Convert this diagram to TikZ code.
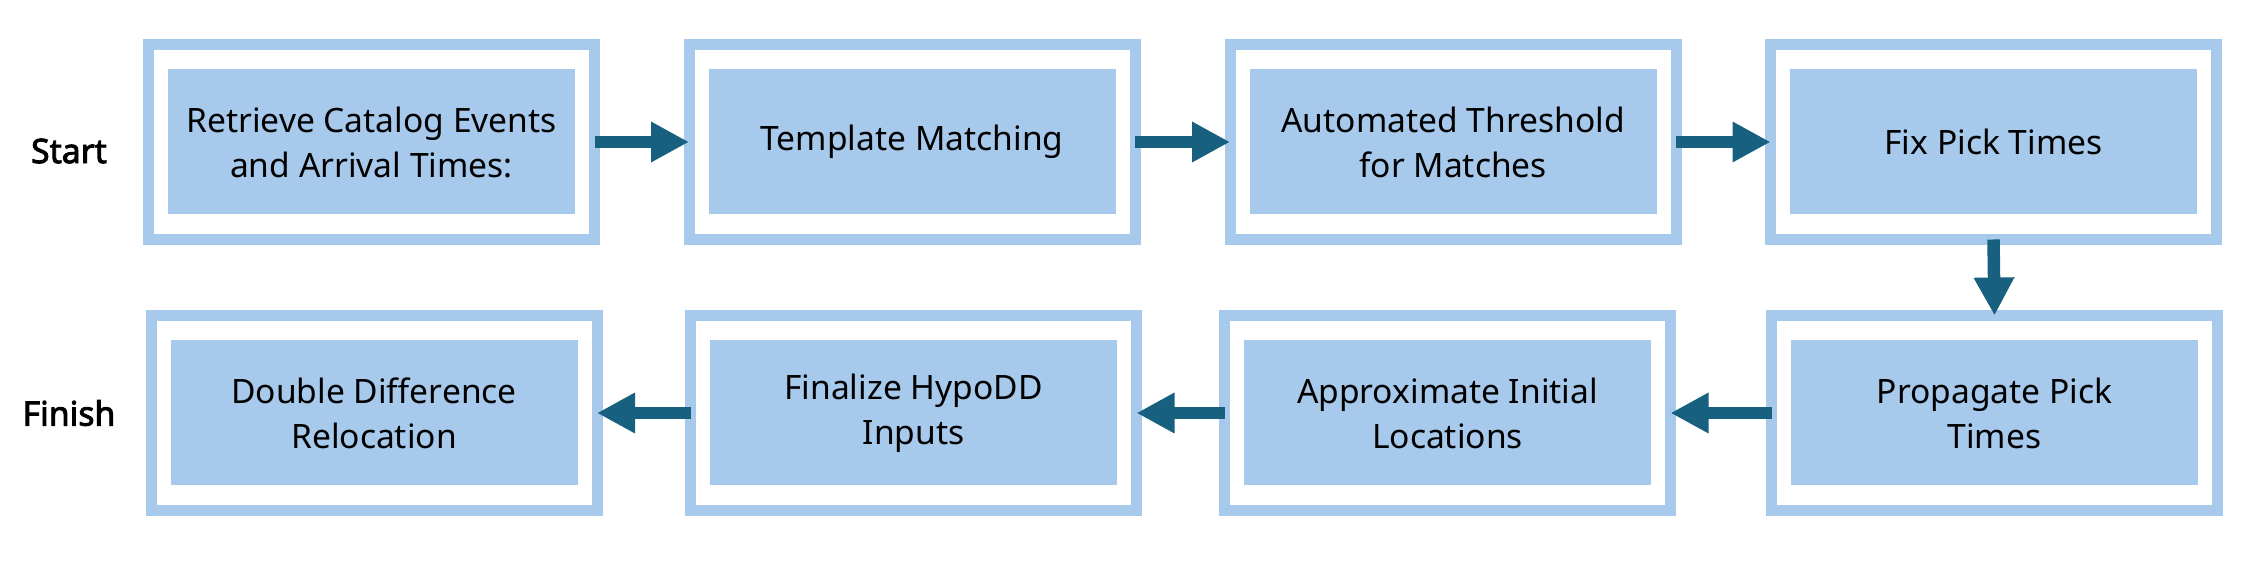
\documentclass[tikz,border=0pt]{standalone}
\usepackage{fontspec}
\setmainfont{Noto Sans}
\newfontfamily\labelfont{Noto Sans}[FakeBold=2.6]
\usetikzlibrary{arrows.meta}
\definecolor{boxblue}{HTML}{A6C9EC}
\definecolor{arrowblue}{HTML}{17607F}
\tikzset{
	outerbox/.style={draw=boxblue, line width=0.11cm, minimum width=4.46cm, minimum height=1.95cm, inner sep=0pt, outer sep=0pt},
	stage/.style={fill=boxblue, minimum width=4.07cm, minimum height=1.45cm, inner sep=0pt, align=center, font=\fontsize{9.55pt}{12.8pt}\selectfont},
	flow/.style={draw=arrowblue, line width=0.125cm, -{Triangle[width=0.38cm,length=0.38cm]}},
	rowlabel/.style={font=\fontsize{9.6pt}{12pt}\labelfont}
}
\begin{document}
\begin{tikzpicture}
		\useasboundingbox (0,0) rectangle (22.52,5.63);
		
		%row labels
		\node[rowlabel] (start) at (0.69, 4.12){Start};
		\node[rowlabel] (finish) at (0.69, 1.50){Finish};
		
		%top row
		\node[outerbox] (retrieveF) at (3.715, 4.21){};
		\node[stage] (retrieve) at (3.715, 4.21){Retrieve Catalog Events\\and Arrival Times:};
		\node[outerbox] (templateF) at (9.12, 4.21){};
		\node[stage] (template) at (9.12, 4.21){Template Matching};
		\node[outerbox] (thresholdF) at (14.53, 4.21){};
		\node[stage] (threshold) at (14.53, 4.21){Automated Threshold\\for Matches};
		\node[outerbox] (fixpickF) at (19.935, 4.21){};
		\node[stage] (fixpick) at (19.935, 4.21){Fix Pick Times};
		
		%bottom row
		\node[outerbox] (relocF) at (3.74, 1.50){};
		\node[stage] (reloc) at (3.74, 1.50){Double Difference\\Relocation};
		\node[outerbox] (hypoddF) at (9.135, 1.50){};
		\node[stage] (hypodd) at (9.135, 1.50){Finalize HypoDD\\Inputs};
		\node[outerbox] (approxF) at (14.475, 1.50){};
		\node[stage] (approx) at (14.475, 1.50){Approximate Initial\\Locations};
		\node[outerbox] (propagateF) at (19.945, 1.50){};
		\node[stage] (propagate) at (19.945, 1.50){Propagate Pick\\Times};
		
		%arrows
		\draw[flow] (retrieveF.east) -- (templateF.west);
		\draw[flow] (templateF.east) -- (thresholdF.west);
		\draw[flow] (thresholdF.east) -- (fixpickF.west);
		\draw[flow] (fixpickF.south) -- (propagateF.north);
		\draw[flow] (propagateF.west) -- (approxF.east);
		\draw[flow] (approxF.west) -- (hypoddF.east);
		\draw[flow] (hypoddF.west) -- (relocF.east);
		\end{tikzpicture}
\end{document}
